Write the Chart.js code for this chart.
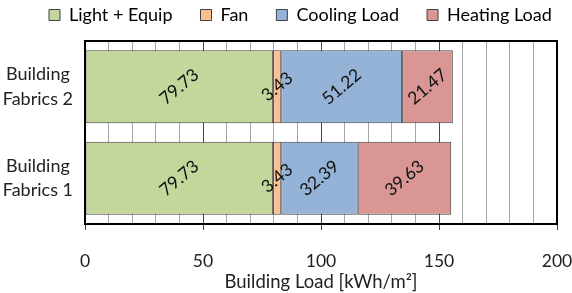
<!DOCTYPE html>
<html>
<head>
<meta charset="utf-8">
<script src="https://cdn.jsdelivr.net/npm/chart.js@4"></script>
<style>
  html, body { margin: 0; padding: 0; background: #fff; }
  #wrap { width: 572px; height: 293px; }
</style>
</head>
<body>
<div id="wrap"><canvas id="chart"></canvas></div>
<script>
const categories = [['Building', 'Fabrics 2'], ['Building', 'Fabrics 1']];
const lightEquip = [79.73, 79.73];
const fan = [3.43, 3.43];
const coolingLoad = [51.22, 32.39];
const heatingLoad = [21.47, 39.63];
const seriesNames = ['Light + Equip', 'Fan', 'Cooling Load', 'Heating Load'];
const xTicks = [0, 50, 100, 150, 200];

const FONT = 'Lato, "Open Sans", sans-serif';

// rotated value labels inside each segment
const valueLabels = {
    id: 'valueLabels',
    afterDatasetsDraw(chart) {
        const ctx = chart.ctx;
        ctx.save();
        ctx.font = '17.5px ' + FONT;
        ctx.fillStyle = '#111';
        ctx.textAlign = 'center';
        ctx.textBaseline = 'middle';
        chart.data.datasets.forEach(function(ds, i) {
            chart.getDatasetMeta(i).data.forEach(function(bar, j) {
                const cx = (bar.x + bar.base) / 2;
                ctx.save();
                ctx.translate(cx, bar.y);
                ctx.rotate(-40 * Math.PI / 180);
                ctx.fillText(ds.data[j].toFixed(2), 0, 0);
                ctx.restore();
            });
        });
        ctx.restore();
    }
};

// black frame round the plot area
const plotFrame = {
    id: 'plotFrame',
    afterDraw(chart) {
        const a = chart.chartArea;
        const ctx = chart.ctx;
        ctx.save();
        ctx.strokeStyle = '#000';
        ctx.lineWidth = 2;
        ctx.strokeRect(a.left, a.top, a.right - a.left, a.bottom - a.top);
        ctx.restore();
    }
};

// legend: keep on one row, wide gaps but a short box
const legendTweak = {
    id: 'legendTweak',
    afterInit(chart) {
        const lg = chart.legend;
        const fit = lg.fit;
        const draw = lg.draw;
        lg.fit = function() {
            const mw = this.maxWidth;
            this.maxWidth = 2000;
            fit.call(this);
            this.maxWidth = mw;
            this.width = mw;
            this.height = 59;
        };
        lg.draw = function() {
            const ctx = this.ctx;
            const r = this.right;
            this.right = 2000;
            ctx.save();
            ctx.translate(21, -4);
            draw.call(this);
            ctx.restore();
            this.right = r;
        };
    }
};

Chart.defaults.font.family = FONT;
Chart.defaults.font.size = 17;
Chart.defaults.color = '#222';

new Chart(document.getElementById('chart'), {
    type: 'bar',
    data: {
        labels: categories,
        datasets: [
            { label: seriesNames[0], data: lightEquip, backgroundColor: '#c3d69b' },
            { label: seriesNames[1], data: fan, backgroundColor: '#fac090' },
            { label: seriesNames[2], data: coolingLoad, backgroundColor: '#95b3d7' },
            { label: seriesNames[3], data: heatingLoad, backgroundColor: '#d99694' }
        ].map(function(d) {
            d.borderColor = '#404040';
            d.borderWidth = 1;
            d.borderSkipped = false;
            d.barPercentage = 0.8;
            d.categoryPercentage = 1;
            return d;
        })
    },
    options: {
        indexAxis: 'y',
        responsive: true,
        maintainAspectRatio: false,
        animation: false,
        layout: { padding: { left: 0, right: 15, top: -18, bottom: 0 } },
        plugins: {
            tooltip: { enabled: false },
            legend: {
                position: 'top',
                align: 'start',
                labels: {
                    boxWidth: 11,
                    boxHeight: 11,
                    padding: 28,
                    color: '#222',
                    font: { size: 18, family: FONT },
                    generateLabels(chart) {
                        return chart.data.datasets.map(function(ds, i) {
                            return {
                                text: ds.label,
                                fillStyle: ds.backgroundColor,
                                strokeStyle: '#404040',
                                lineWidth: 1,
                                datasetIndex: i
                            };
                        });
                    }
                }
            }
        },
        scales: {
            x: {
                stacked: true,
                min: 0,
                max: 200,
                afterBuildTicks(scale) {
                    const t = [];
                    for (let v = 0; v <= 200; v += 10) t.push({ value: v });
                    scale.ticks = t;
                },
                afterFit(scale) {
                    scale.paddingLeft = 0;
                    scale.paddingRight = 0;
                    scale.height = 69;
                },
                grid: {
                    color(c) { return c.tick.value % 50 === 0 ? '#3030ff' : '#a6a6a6'; },
                    tickColor(c) { return c.tick.value % 50 === 0 ? '#404040' : 'rgba(0,0,0,0)'; },
                    tickLength: 6,
                    lineWidth: 1
                },
                border: { display: false },
                ticks: {
                    autoSkip: false,
                    maxRotation: 0,
                    padding: 21,
                    color: '#222',
                    font: { size: 17.5 },
                    callback(v) { return xTicks.indexOf(v) >= 0 ? String(v) : ''; }
                },
                title: {
                    display: true,
                    text: 'Building Load [kWh/m²]',
                    color: '#222',
                    font: { size: 18.5 },
                    padding: { top: 0, bottom: 0 }
                }
            },
            y: {
                stacked: true,
                afterFit(scale) {
                    scale.width = 85;
                    scale.paddingTop = 0;
                    scale.paddingBottom = 0;
                },
                grid: { display: false },
                border: { display: false },
                ticks: {
                    color: '#222',
                    crossAlign: 'center',
                    padding: 4,
                    font: { size: 18, lineHeight: 1.35 }
                }
            }
        }
    },
    plugins: [valueLabels, plotFrame, legendTweak]
});
</script>
</body>
</html>
